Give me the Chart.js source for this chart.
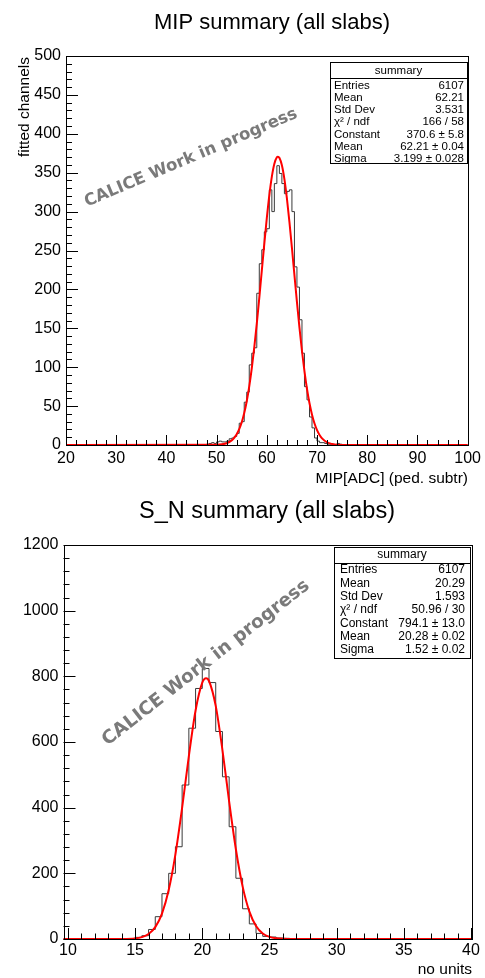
<!DOCTYPE html>
<html><head><meta charset="utf-8">
<script src="https://cdn.jsdelivr.net/npm/chart.js@4.4.0/dist/chart.umd.min.js"></script>
<style>
html,body{margin:0;padding:0;background:#fff;}
#wrap{position:relative;width:485px;height:978px;background:#fff;}
.cv{position:absolute;left:0;width:485px;height:489px;}
</style></head><body>
<div id="wrap">
<div class="cv" style="top:0"><canvas id="c1" width="485" height="489"></canvas></div>
<div class="cv" style="top:489px"><canvas id="c2" width="485" height="489"></canvas></div>
</div>
<script>
// ---------- data: MIP summary ----------
const mipTitle = "MIP summary (all slabs)";
const mipXTitle = "MIP[ADC] (ped. subtr)";
const mipYTitle = "fitted channels";
const mipBinStart = 47.0;
const mipBinWidth = 0.5;
const mipCounts = [0,0,1,2,3,2,4,5,4,4,5,8,9,11,15,28,30,55,68,103,118,125,195,233,251,274,278,328,300,336,359,349,336,323,326,328,300,229,203,161,118,75,58,36,22,9,5,3,3,2,1,1,1,0,2,1,0];
const mipFitX = [20,50,52,53,53.5,54,54.5,55,55.5,56,56.5,57,57.5,58,58.5,59,59.5,60,60.5,61,61.5,62,62.21,62.5,63,63.5,64,64.5,65,65.5,66,66.5,67,67.5,68,68.5,69,69.5,70,70.5,71,72,73,74,76,100];
const mipFitY = [0,0.3,2.3,5.9,9.1,13.8,20.3,29.2,41.1,56.3,75.4,98.4,125.4,155.9,189.2,224.1,258.9,291.9,321.3,345.0,361.6,369.8,370.6,369.1,359.5,341.7,316.9,286.8,253.4,218.4,183.7,150.8,120.8,94.5,72.0,53.6,39.0,27.6,19.1,12.9,8.5,3.4,1.3,0.4,0.05,0];
const mipXTicks = [20,30,40,50,60,70,80,90,100];
const mipYTicks = [0,50,100,150,200,250,300,350,400,450,500];
const mipStatLabels = ["Entries","Mean","Std Dev","\u03C7\u00B2 / ndf","Constant","Mean","Sigma"];
const mipStatValues = ["6107","62.21","3.531","166 / 58","370.6 \u00B1 5.8","62.21 \u00B1 0.04","3.199 \u00B1 0.028"];

// ---------- data: S_N summary ----------
const snTitle = "S_N summary (all slabs)";
const snXTitle = "no units";
const snBinStart = 14.5;
const snBinWidth = 0.5;
const snCounts = [1,5,10,29,68,138,200,281,469,642,763,824,781,632,494,342,185,92,46,17,8,6,3,2,0];
const snFitX = [9.67,13,14,15,15.5,16,16.5,17,17.5,18,18.5,19,19.5,20,20.28,20.5,21,21.5,22,22.5,23,23.5,24,24.5,25,25.5,26,27,28,40];
const snFitY = [0,0.01,0.16,1.9,5.7,15.1,36.1,77.4,149.1,257.9,400.0,557.1,696.1,780.7,794.1,785.8,709.9,575.5,418.7,273.3,160.2,84.2,39.7,16.8,6.4,2.2,0.7,0.05,0,0];
const snXTicks = [10,15,20,25,30,35,40];
const snYTicks = [0,200,400,600,800,1000,1200];
const snStatLabels = ["Entries","Mean","Std Dev","\u03C7\u00B2 / ndf","Constant","Mean","Sigma"];
const snStatValues = ["6107","20.29","1.593","50.96 / 30","794.1 \u00B1 13.0","20.28 \u00B1 0.02","1.52 \u00B1 0.02"];

const watermark = "CALICE Work in progress";
const FONT = "'Liberation Sans', Arial, Helvetica, sans-serif";

function histPoints(start, w, counts, xmin, xmax){
  const pts = [{x:xmin,y:0}];
  counts.forEach((c,i)=>pts.push({x:start+i*w, y:c}));
  pts.push({x:start+counts.length*w, y:0});
  pts.push({x:xmax, y:0});
  return pts;
}
function fitPoints(xs, ys){ return xs.map((x,i)=>({x:x,y:ys[i]})); }

function decoPlugin(c){
  return {
    id:'deco',
    afterDatasetsDraw(chart){
      const ctx = chart.ctx, a = chart.chartArea, xs = chart.scales.x, ys = chart.scales.y;
      ctx.save();
      ctx.strokeStyle = '#000'; ctx.lineWidth = 1;
      ctx.beginPath();
      const x0 = Math.ceil(xs.min / c.xMinor - 1e-6) * c.xMinor;
      for (let k = 0; ; k++){
        const v = x0 + k * c.xMinor; if (v > xs.max + 1e-6) break;
        const px = Math.round(xs.getPixelForValue(v)) + 0.5;
        const maj = Math.abs(v / c.xMajor - Math.round(v / c.xMajor)) < 1e-6;
        ctx.moveTo(px, a.bottom); ctx.lineTo(px, a.bottom - (maj ? c.xMajLen : c.xMinLen));
      }
      for (let k = 0; ; k++){
        const v = ys.min + k * c.yMinor; if (v > ys.max + 1e-6) break;
        const py = Math.round(ys.getPixelForValue(v)) + 0.5;
        const maj = Math.abs(v / c.yMajor - Math.round(v / c.yMajor)) < 1e-6;
        ctx.moveTo(a.left, py); ctx.lineTo(a.left + (maj ? c.yMajLen : c.yMinLen), py);
      }
      ctx.stroke();
      ctx.strokeRect(Math.round(a.left)+0.5, Math.round(a.top)+0.5, Math.round(a.right - a.left), Math.round(a.bottom - a.top));

      // title
      ctx.fillStyle = '#000';
      ctx.font = c.titleSize + 'px ' + FONT;
      ctx.textAlign = 'center'; ctx.textBaseline = 'middle';
      ctx.fillText(c.title, c.titleX, c.titleY);
      // axis titles
      ctx.font = c.axSize + 'px ' + FONT;
      ctx.textAlign = 'right';
      ctx.fillText(c.xTitle, c.xTitleX, c.xTitleY);
      if (c.yTitle){
        ctx.save();
        ctx.translate(c.yTitleX, c.yTitleY);
        ctx.rotate(-Math.PI/2);
        ctx.textAlign = 'right'; ctx.textBaseline = 'middle';
        ctx.fillText(c.yTitle, 0, 0);
        ctx.restore();
      }
      // stats box
      const b = c.box;
      ctx.fillStyle = '#fff';
      ctx.fillRect(b.l, b.t, b.r - b.l, b.b - b.t);
      ctx.strokeStyle = '#000';
      ctx.strokeRect(b.l + 0.5, b.t + 0.5, b.r - b.l, b.b - b.t);
      ctx.beginPath(); ctx.moveTo(b.l, b.sep + 0.5); ctx.lineTo(b.r, b.sep + 0.5); ctx.stroke();
      ctx.fillStyle = '#000';
      ctx.font = b.fs + 'px ' + FONT;
      ctx.textAlign = 'center'; ctx.textBaseline = 'middle';
      ctx.fillText('summary', (b.l + b.r) / 2, b.head);
      c.labels.forEach((lab, i) => {
        const y = b.row0 + i * b.step;
        ctx.textAlign = 'left'; ctx.fillText(lab, b.tx, y);
        ctx.textAlign = 'right'; ctx.fillText(c.values[i], b.vx, y);
      });
      // watermark
      ctx.save();
      ctx.translate(c.wm.x, c.wm.y);
      ctx.rotate(-c.wm.ang * Math.PI / 180);
      ctx.font = 'bold ' + c.wm.fs + "px 'DejaVu Sans', Verdana, sans-serif";
      ctx.fillStyle = '#7a7a7a';
      ctx.textAlign = 'center'; ctx.textBaseline = 'middle';
      ctx.fillText(watermark, 0, 0);
      ctx.restore();
      ctx.restore();
    }
  };
}

function makeChart(id, d){
  return new Chart(document.getElementById(id), {
    type: 'line',
    data: { datasets: [
      { data: fitPoints(d.fitX, d.fitY), borderColor: '#ff0000', borderWidth: 2, pointRadius: 0,
        cubicInterpolationMode: 'monotone', fill: false, order: 0, clip: 4 },
      { data: histPoints(d.start, d.w, d.counts, d.xmin, d.xmax), borderColor: '#3a3a3a', borderWidth: 1,
        pointRadius: 0, stepped: 'before', tension: 0, fill: false, order: 1, clip: 2 }
    ]},
    options: {
      responsive: false, animation: false, devicePixelRatio: 1,
      layout: { padding: { top: d.padTop, right: d.padRight, left: 0, bottom: 0 } },
      plugins: { legend: { display: false }, tooltip: { enabled: false }, title: { display: false } },
      scales: {
        x: { type: 'linear', min: d.xmin, max: d.xmax,
          afterBuildTicks: s => { s.ticks = d.xTicks.map(v => ({ value: v })); },
          afterFit: s => { s.height = d.xAxisH; },
          grid: { display: false, drawTicks: false }, border: { display: false },
          ticks: { font: { family: FONT, size: 16 }, color: '#000', padding: d.xPad, maxRotation: 0, autoSkip: false,
                   callback: v => String(v) } },
        y: { type: 'linear', min: 0, max: d.ymax,
          afterBuildTicks: s => { s.ticks = d.yTicks.map(v => ({ value: v })); },
          afterFit: s => { s.width = d.yAxisW; },
          grid: { display: false, drawTicks: false }, border: { display: false },
          ticks: { font: { family: FONT, size: 16 }, color: '#000', padding: 5, autoSkip: false,
                   callback: v => String(v) } }
      }
    },
    plugins: [decoPlugin(d.deco)]
  });
}

makeChart('c1', {
  fitX: mipFitX, fitY: mipFitY, start: mipBinStart, w: mipBinWidth, counts: mipCounts,
  xmin: 20, xmax: 100, ymax: 500, xTicks: mipXTicks, yTicks: mipYTicks,
  padTop: 56, padRight: 17, xAxisH: 44, yAxisW: 66, xPad: 4,
  deco: { xMinor: 2, xMajor: 10, xMajLen: 10, xMinLen: 5, yMinor: 10, yMajor: 50, yMajLen: 12, yMinLen: 6,
    title: mipTitle, titleSize: 22, titleX: 272, titleY: 23,
    xTitle: mipXTitle, xTitleX: 468, xTitleY: 479, axSize: 15.5,
    yTitle: mipYTitle, yTitleX: 25, yTitleY: 57,
    box: { l: 330, t: 62, r: 467, b: 163, sep: 78, head: 70.5, row0: 86, step: 12.1, fs: 11.5, tx: 334, vx: 464 },
    labels: mipStatLabels, values: mipStatValues,
    wm: { x: 191, y: 158, ang: 23, fs: 16.5 } }
});

makeChart('c2', {
  fitX: snFitX, fitY: snFitY, start: snBinStart, w: snBinWidth, counts: snCounts,
  xmin: 9.67, xmax: 40, ymax: 1200, xTicks: snXTicks, yTicks: snYTicks,
  padTop: 56, padRight: 14, xAxisH: 39, yAxisW: 63.5, xPad: 2,
  deco: { xMinor: 1, xMajor: 5, xMajLen: 11, xMinLen: 5.5, yMinor: 40, yMajor: 200, yMajLen: 12, yMinLen: 6,
    title: snTitle, titleSize: 23.5, titleX: 267, titleY: 23,
    xTitle: snXTitle, xTitleX: 472, xTitleY: 481, axSize: 15.5,
    yTitle: null,
    box: { l: 334, t: 58, r: 470, b: 169, sep: 74, head: 66, row0: 81, step: 13.3, fs: 12, tx: 340, vx: 465 },
    labels: snStatLabels, values: snStatValues,
    wm: { x: 206, y: 174, ang: 38, fs: 18.5 } }
});
</script>
</body></html>
